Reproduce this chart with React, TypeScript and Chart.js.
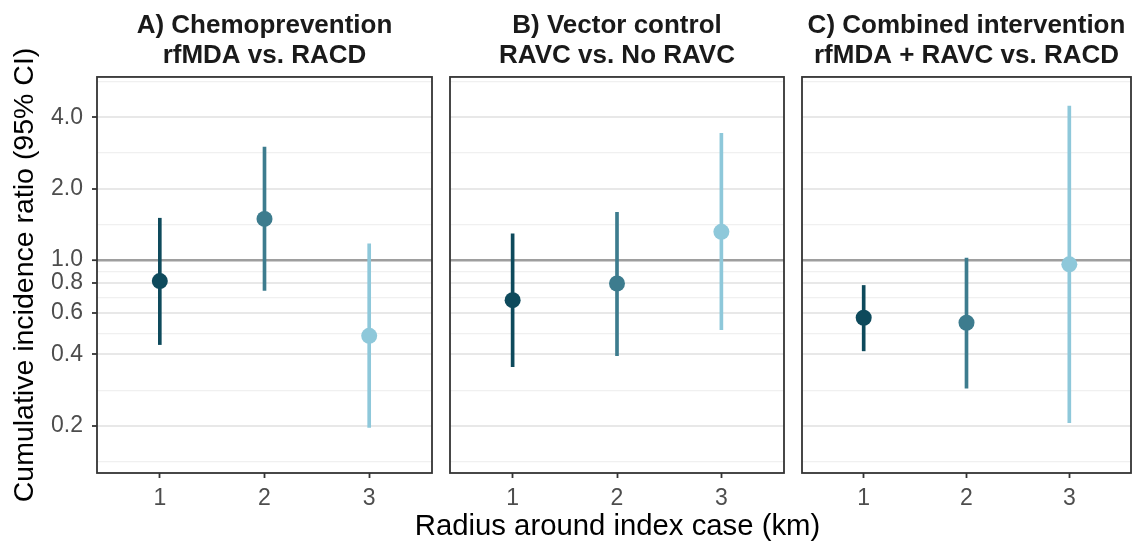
import React, { useEffect, useRef } from 'react';
import { Chart, registerables } from 'chart.js';

Chart.register(...registerables);

// ---------- data ----------
const radii = [1, 2, 3];
const xTickLabels = ['1', '2', '3'];

const titleA = ['A) Chemoprevention', 'rfMDA vs. RACD'];
const titleB = ['B) Vector control', 'RAVC vs. No RAVC'];
const titleC = ['C) Combined intervention', 'rfMDA + RAVC vs. RACD'];

const estA = [0.815, 1.49, 0.479];
const lowA = [0.44, 0.744, 0.197];
const highA = [1.5, 2.99, 1.169];

const estB = [0.677, 0.796, 1.314];
const lowB = [0.355, 0.395, 0.508];
const highB = [1.289, 1.588, 3.42];

const estC = [0.571, 0.544, 0.959];
const lowC = [0.414, 0.288, 0.206];
const highC = [0.781, 1.02, 4.45];

const radiusColors = ['#0e4a5c', '#3d7c8e', '#8ec8da'];

const yMajorTicks = [0.2, 0.4, 0.6, 0.8, 1.0, 2.0, 4.0];
const yMinorTicks = [0.1414, 0.2828, 0.4899, 0.6928, 0.8944, 1.4142, 2.8284, 5.6569];
const yTickLabels = ['0.2', '0.4', '0.6', '0.8', '1.0', '2.0', '4.0'];
const yMin = 0.1265;
const yMax = 5.91;
const refValue = 1.0;

const yTitle = 'Cumulative incidence ratio (95% CI)';
const xTitle = 'Radius around index case (km)';

const FONT = '"Liberation Sans", Arial, Helvetica, sans-serif';
Chart.defaults.font.family = FONT;

const near = (a: number, b: number) => Math.abs(a - b) < 1e-6;
const majorIndex = (v: number) => yMajorTicks.findIndex((m) => near(m, v));

const framePlugin = {
  id: 'panelFrame',
  afterDatasetsDraw(chart: any) {
    const { ctx, chartArea } = chart;
    const { left, top, right, bottom } = chartArea;
    ctx.save();
    ctx.strokeStyle = '#333333';
    ctx.lineWidth = 1.8;
    ctx.strokeRect(left, top, right - left, bottom - top);
    ctx.restore();
  },
};

type PanelProps = {
  title: string[];
  est: number[];
  low: number[];
  high: number[];
  left: number;
  width: number;
  yAxisWidth: number;
  padRight: number;
  showY: boolean;
};

function Panel({ title, est, low, high, left, width, yAxisWidth, padRight, showY }: PanelProps) {
  const ref = useRef<HTMLCanvasElement | null>(null);
  useEffect(() => {
    if (!ref.current) return;
    const allY = [...yMajorTicks, ...yMinorTicks].sort((a, b) => a - b);
    const chart = new Chart(ref.current, {
      type: 'bar',
      data: {
        datasets: [
          {
            type: 'line',
            data: radii.map((r, i) => ({ x: r, y: est[i] })),
            showLine: false,
            pointRadius: 8,
            pointHoverRadius: 8,
            pointBackgroundColor: radiusColors,
            pointBorderColor: radiusColors,
            pointBorderWidth: 0,
            order: 0,
          } as any,
          {
            type: 'bar',
            data: radii.map((r, i) => ({ x: r, y: [low[i], high[i]] })),
            backgroundColor: radiusColors,
            borderWidth: 0,
            barThickness: 3,
            order: 1,
          } as any,
        ],
      },
      options: {
        animation: false,
        responsive: false,
        maintainAspectRatio: false,
        events: [],
        layout: { padding: { left: 0, right: padRight, top: 0, bottom: 0 } },
        plugins: {
          legend: { display: false },
          tooltip: { enabled: false },
          title: {
            display: true,
            fullSize: false,
            text: title,
            color: '#1a1a1a',
            font: { size: 26, weight: 'bold', lineHeight: 1.13, family: FONT },
            padding: { top: 11.5, bottom: 6.7 },
          },
        },
        scales: {
          x: {
            type: 'linear',
            min: 0.4,
            max: 3.6,
            offset: false,
            afterBuildTicks: (s: any) => {
              s.ticks = radii.map((v) => ({ value: v }));
            },
            afterFit: (s: any) => {
              s.height = 71;
            },
            grid: {
              offset: false,
              drawOnChartArea: false,
              drawTicks: true,
              tickLength: 5,
              tickColor: '#333333',
              tickWidth: 1.8,
            },
            border: { display: false },
            ticks: {
              color: '#4d4d4d',
              font: { size: 23, family: FONT },
              padding: 7,
              autoSkip: false,
              maxRotation: 0,
              callback: (v: any) => {
                const i = radii.indexOf(Number(v));
                return i >= 0 ? xTickLabels[i] : '';
              },
            },
          },
          y: {
            type: 'logarithmic',
            min: yMin,
            max: yMax,
            afterBuildTicks: (s: any) => {
              s.ticks = allY.map((v) => ({ value: v }));
            },
            afterFit: (s: any) => {
              s.width = yAxisWidth;
            },
            grid: {
              drawTicks: showY,
              tickLength: 5,
              tickWidth: 1.8,
              tickColor: (c: any) =>
                c.tick && majorIndex(c.tick.value) >= 0 ? '#333333' : 'rgba(0,0,0,0)',
              color: (c: any) => {
                const v = c.tick ? c.tick.value : 0;
                if (near(v, refValue)) return '#9e9e9e';
                return majorIndex(v) >= 0 ? '#e8e8e8' : '#f0f0f0';
              },
              lineWidth: (c: any) => {
                const v = c.tick ? c.tick.value : 0;
                if (near(v, refValue)) return 2.4;
                return majorIndex(v) >= 0 ? 2 : 1.2;
              },
            },
            border: { display: false },
            ticks: {
              display: showY,
              color: '#4d4d4d',
              font: { size: 23, family: FONT },
              padding: 9,
              autoSkip: false,
              callback: (v: any) => {
                const i = majorIndex(Number(v));
                return i >= 0 ? yTickLabels[i] : '';
              },
            },
            title: {
              display: showY,
              text: yTitle,
              color: '#000000',
              font: { size: 28.5, family: FONT },
              padding: { top: 8, bottom: 0 },
            },
          },
        },
      } as any,
      plugins: [framePlugin],
    });
    return () => chart.destroy();
  }, []);
  return (
    <canvas
      ref={ref}
      width={width}
      height={544}
      style={{ position: 'absolute', left, top: 0, width, height: 544 }}
    />
  );
}

export default function App() {
  return (
    <div
      style={{
        position: 'fixed',
        left: 0,
        top: 0,
        width: 1139,
        height: 544,
        background: '#ffffff',
        overflow: 'hidden',
      }}
    >
      <Panel title={titleA} est={estA} low={lowA} high={highA} left={0} width={440} yAxisWidth={97} padRight={6} showY={true} />
      <Panel title={titleB} est={estB} low={lowB} high={highB} left={440} width={352} yAxisWidth={10} padRight={6} showY={false} />
      <Panel title={titleC} est={estC} low={lowC} high={highC} left={792} width={347} yAxisWidth={10} padRight={1} showY={false} />
      <div
        style={{
          position: 'absolute',
          left: 97,
          width: 1041,
          top: 507,
          textAlign: 'center',
          font: `29.3px ${FONT}`,
          lineHeight: '36px',
          color: '#000000',
          whiteSpace: 'nowrap',
        }}
      >
        {xTitle}
      </div>
    </div>
  );
}
